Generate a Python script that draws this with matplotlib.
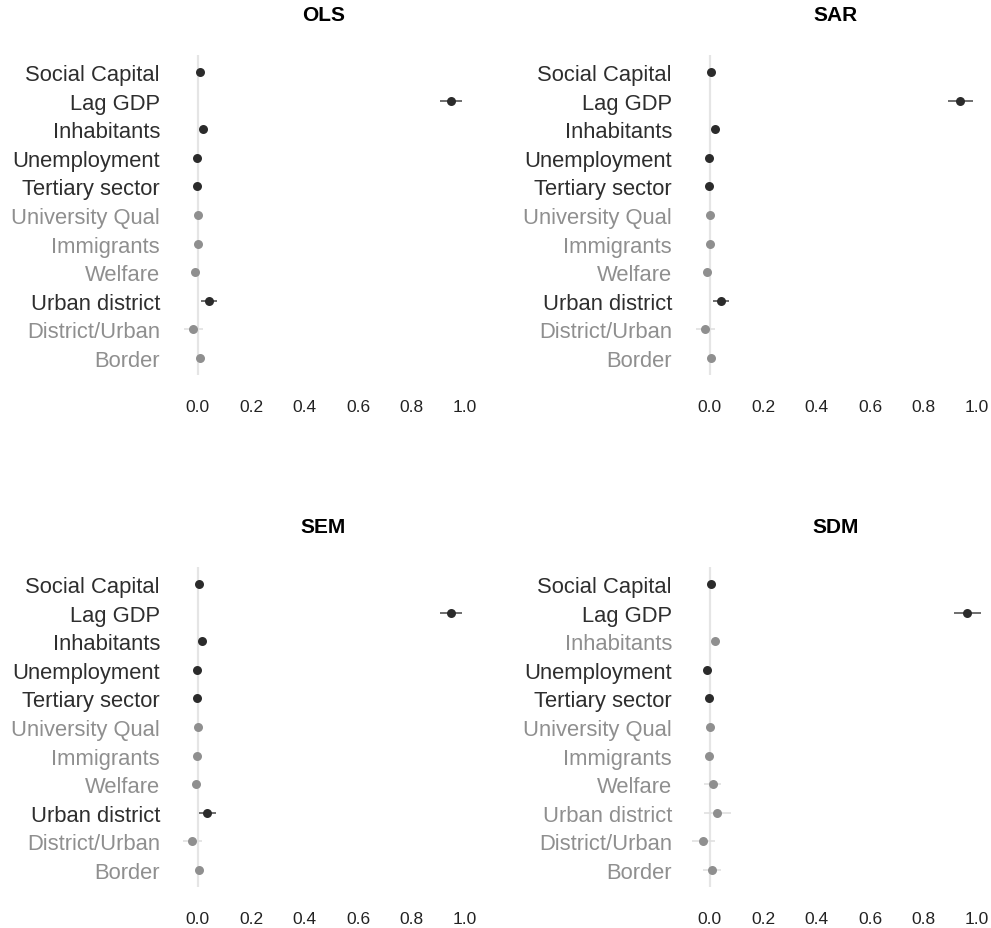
import numpy as np
import matplotlib
matplotlib.use("Agg")
import matplotlib.pyplot as plt

plt.rcParams['font.family'] = ['Liberation Sans', 'DejaVu Sans']

# variables, top to bottom
variables = ["Social Capital", "Lag GDP", "Inhabitants", "Unemployment",
             "Tertiary sector", "University Qual", "Immigrants", "Welfare",
             "Urban district", "District/Urban", "Border"]

models = ["OLS", "SAR", "SEM", "SDM"]

# point estimates
ols_est = [0.008, 0.948, 0.019, -0.001, -0.001, 0.000, 0.000, -0.011, 0.043, -0.016, 0.008]
sar_est = [0.006, 0.939, 0.019, -0.002, -0.002, 0.000, 0.000, -0.011, 0.041, -0.016, 0.006]
sem_est = [0.006, 0.949, 0.017, -0.002, -0.001, 0.000, -0.001, -0.007, 0.036, -0.020, 0.006]
sdm_est = [0.006, 0.965, 0.019, -0.009, -0.001, 0.001, -0.001, 0.012, 0.029, -0.025, 0.009]

# half width of the confidence intervals
ols_ci = [0.004, 0.040, 0.005, 0.004, 0.004, 0.003, 0.003, 0.006, 0.031, 0.035, 0.005]
sar_ci = [0.004, 0.045, 0.005, 0.004, 0.004, 0.003, 0.003, 0.006, 0.030, 0.036, 0.005]
sem_ci = [0.004, 0.040, 0.005, 0.004, 0.004, 0.003, 0.003, 0.006, 0.032, 0.036, 0.005]
sdm_ci = [0.004, 0.052, 0.006, 0.005, 0.004, 0.003, 0.004, 0.032, 0.050, 0.043, 0.034]

# significant (dark) or not (grey)
ols_sig = [1, 1, 1, 1, 1, 0, 0, 0, 1, 0, 0]
sar_sig = [1, 1, 1, 1, 1, 0, 0, 0, 1, 0, 0]
sem_sig = [1, 1, 1, 1, 1, 0, 0, 0, 1, 0, 0]
sdm_sig = [1, 1, 0, 1, 1, 0, 0, 0, 0, 0, 0]

estimates = [ols_est, sar_est, sem_est, sdm_est]
intervals = [ols_ci, sar_ci, sem_ci, sdm_ci]
significant = [ols_sig, sar_sig, sem_sig, sdm_sig]

dark = "#2b2b2b"
grey = "#8f8f8f"
dark_line = "#555555"
grey_line = "#e0e0e0"

W, H = 991, 929
fig = plt.figure(figsize=(W / 100, H / 100), dpi=100)

# axes boxes in pixels: left, top, right, bottom
boxes = [(171, 56, 476, 376), (683, 56, 988, 376),
         (171, 568, 476, 888), (683, 568, 988, 888)]

n = len(variables)
ypos = np.arange(n)

for k, model in enumerate(models):
    l, t, r, b = boxes[k]
    ax = fig.add_axes([l / W, 1 - b / H, (r - l) / W, (b - t) / H])
    est = np.array(estimates[k])
    ci = np.array(intervals[k])
    sig = np.array(significant[k], dtype=bool)

    ax.axvline(0, color="#e5e5e5", lw=1.6, zorder=0)
    for i in range(n):
        c = dark if sig[i] else grey
        lc = dark_line if sig[i] else grey_line
        ax.plot([est[i] - ci[i], est[i] + ci[i]], [ypos[i], ypos[i]],
                color=lc, lw=1.2, zorder=1, solid_capstyle="butt")
        ax.scatter(est[i], ypos[i], s=42, color=c, zorder=2, linewidths=0)

    ax.set_xlim(-0.1, 1.042)
    ax.set_ylim(n - 0.4, -0.6)
    ax.set_xticks([0.0, 0.2, 0.4, 0.6, 0.8, 1.0])
    ax.set_xticklabels(["0.0", "0.2", "0.4", "0.6", "0.8", "1.0"],
                       fontsize=12.5, color="#222222")
    ax.set_yticks(ypos)
    ax.set_yticklabels(variables, fontsize=15.8)
    for lab, s in zip(ax.get_yticklabels(), sig):
        lab.set_color("#2e2e2e" if s else grey)
    ax.tick_params(axis="both", length=0)
    ax.tick_params(axis="y", pad=8)
    ax.tick_params(axis="x", pad=17)
    for sp in ax.spines.values():
        sp.set_visible(False)
    ax.set_title(model, fontsize=15, fontweight="bold", pad=25, color="#000000")

fig.savefig("out.png", dpi=100, facecolor="white")
